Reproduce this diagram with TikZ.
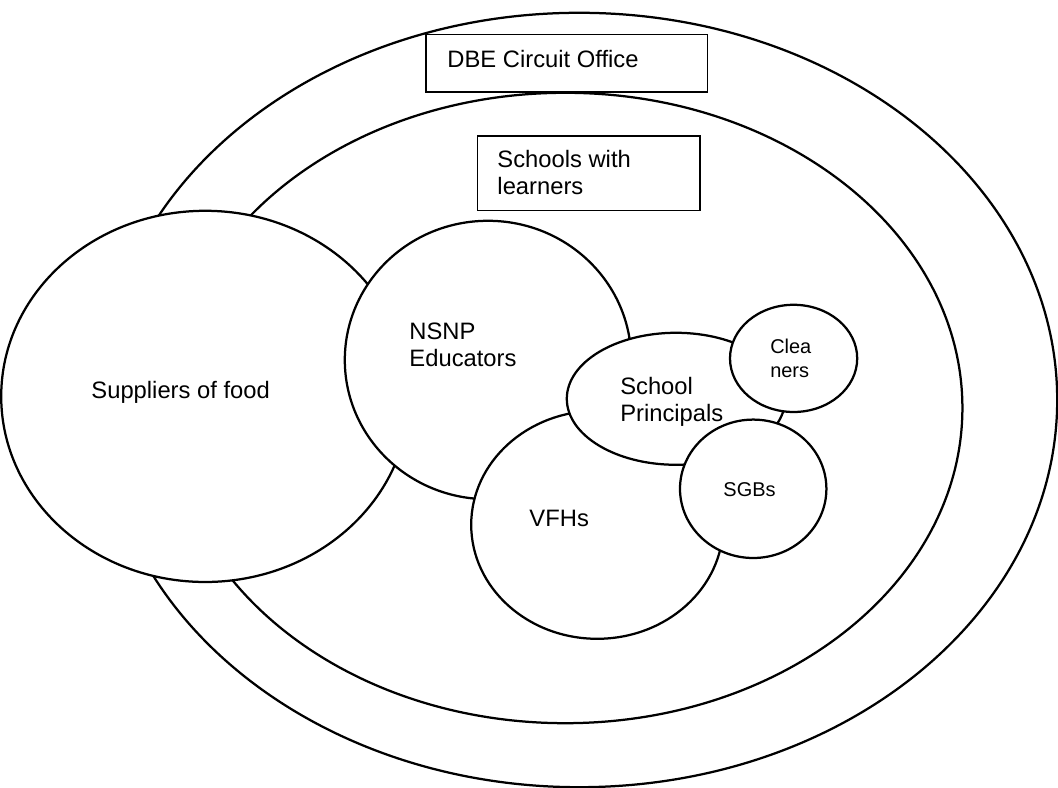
\documentclass[tikz,border=0pt]{standalone}
\usepackage{fontspec}
\setmainfont{Liberation Sans}
\newcommand{\mainsize}{\fontsize{16.9}{19.7}\selectfont}
\newcommand{\smallsize}{\fontsize{14.2}{17.3}\selectfont}
\tikzset{
  ring/.style={line width=1.6pt,draw=neutralcolor},
  blob/.style={line width=1.6pt,fill=fillcolor,draw=neutralcolor},
  boxline/.style={line width=0.8pt,fill=fillcolor,draw=neutralcolor},
  txt/.style={inner sep=0pt,anchor=base west,align=left,font=\mainsize},
  smalltxt/.style={txt,font=\smallsize}
}
\begin{document}
\begin{tikzpicture}
\definecolor{fillcolor}{RGB}{255,255,255}
\definecolor{neutralcolor}{RGB}{0,0,0}
\useasboundingbox [fill=fillcolor] (0,0) rectangle (26.45,19.70);
\draw [ring] (14.48,9.70) ellipse [x radius=11.95,y radius=9.68];
\draw [ring] (14.13,9.50) ellipse [x radius=9.93,y radius=7.88];
\draw [blob] (5.13,9.79) ellipse [x radius=5.10,y radius=4.64];
\draw [blob] (12.20,10.70) ellipse [x radius=3.58,y radius=3.48];
\draw [blob] (14.93,6.58) ellipse [x radius=3.15,y radius=2.85];
\draw [blob] (16.90,9.73) ellipse [x radius=2.73,y radius=1.65];
\draw [blob] (19.84,10.74) ellipse [x radius=1.59,y radius=1.34];
\draw [blob] (18.83,7.48) ellipse [x radius=1.83,y radius=1.73];
\draw [boxline] (10.65,17.40) rectangle (17.68,18.83);
\draw [boxline] (11.93,14.43) rectangle (17.50,16.30);
% base west of a multi-line node sits on its last line
\node [txt] (dbe) at (11.18,18.00) {DBE Circuit Office};
\node [txt] (schools) at (12.43,14.83) {Schools with\\learners};
\node [txt] (suppliers) at (2.28,9.73) {Suppliers of food};
\node [txt] (nsnp) at (10.23,10.53) {NSNP\\Educators};
\node [txt] (principals) at (15.50,9.15) {School\\Principals};
\node [txt] (vfhs) at (13.23,6.53) {VFHs};
\node [smalltxt] (cleaners) at (19.25,10.25) {Clea\\ners};
\node [smalltxt] (sgbs) at (18.08,7.28) {SGBs};
\end{tikzpicture}
\end{document}
